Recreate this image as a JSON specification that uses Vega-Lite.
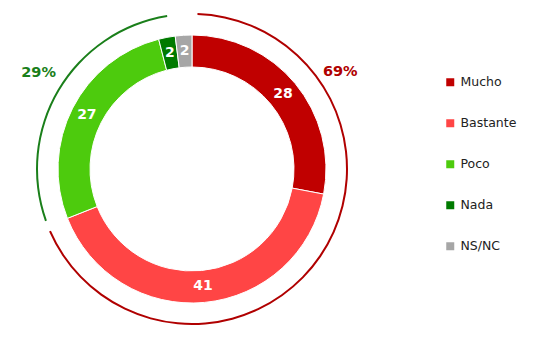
{
  "$schema": "https://vega.github.io/schema/vega-lite/v6.json",
  "width": 535,
  "height": 345,
  "padding": 0,
  "autosize": {"type": "none"},
  "background": "white",
  "config": {"view": {"stroke": null}, "font": "DejaVu Sans"},
  "datasets": {
    "segmentos": [
      {"cat": "Mucho", "valor": 28, "orden": 1},
      {"cat": "Bastante", "valor": 41, "orden": 2},
      {"cat": "Poco", "valor": 27, "orden": 3},
      {"cat": "Nada", "valor": 2, "orden": 4},
      {"cat": "NS/NC", "valor": 2, "orden": 5}
    ],
    "grupos": [
      {"grupo": "Mucho+Bastante", "valor": 69, "orden": 1, "etiqueta": "69%"},
      {"grupo": "Poco+Nada", "valor": 29, "orden": 2, "etiqueta": "29%"},
      {"grupo": "NS/NC", "valor": 2, "orden": 3, "etiqueta": ""}
    ]
  },
  "layer": [
    {
      "data": {"name": "segmentos"},
      "mark": {"type": "arc", "x": 192, "y": 169, "innerRadius": 102, "outerRadius": 134, "stroke": "white", "strokeWidth": 1},
      "encoding": {
        "theta": {"field": "valor", "type": "quantitative", "stack": true, "scale": {"domain": [0, 100]}},
        "order": {"field": "orden", "type": "quantitative"},
        "color": {
          "field": "cat",
          "type": "nominal",
          "scale": {
            "domain": ["Mucho", "Bastante", "Poco", "Nada", "NS/NC"],
            "range": ["#C00000", "#FF4545", "#4DCB0D", "#007A00", "#A6A6A6"]
          },
          "legend": {
            "title": null,
            "orient": "none",
            "legendX": 444,
            "legendY": 76,
            "symbolType": "square",
            "symbolSize": 64,
            "symbolStrokeWidth": 0,
            "labelFontSize": 12.5,
            "labelColor": "#222222",
            "labelFont": "DejaVu Sans",
            "rowPadding": 28,
            "labelOffset": 4
          }
        }
      }
    },
    {
      "data": {"name": "segmentos"},
      "mark": {"type": "text", "x": 192, "y": 169, "radius": 118, "fontWeight": "bold", "fontSize": 14, "fill": "white", "baseline": "middle", "align": "center"},
      "encoding": {
        "theta": {"field": "valor", "type": "quantitative", "stack": true, "scale": {"domain": [0, 100]}},
        "order": {"field": "orden", "type": "quantitative"},
        "text": {"field": "valor", "type": "quantitative"}
      }
    },
    {
      "data": {"name": "grupos"},
      "mark": {"type": "arc", "x": 192, "y": 169, "innerRadius": 154, "outerRadius": 156, "padAngle": 0.05},
      "encoding": {
        "theta": {"field": "valor", "type": "quantitative", "stack": true, "scale": {"domain": [0, 100]}},
        "order": {"field": "orden", "type": "quantitative"},
        "color": {
          "field": "grupo",
          "type": "nominal",
          "scale": {
            "domain": ["Mucho+Bastante", "Poco+Nada", "NS/NC"],
            "range": ["#B00000", "#1A7F1A", "rgba(0,0,0,0)"]
          },
          "legend": null
        }
      }
    },
    {
      "data": {"name": "grupos"},
      "transform": [{"filter": "datum.orden == 1"}],
      "mark": {"type": "text", "x": 192, "y": 169, "radius": 177, "fontWeight": "bold", "fontSize": 14.5, "fill": "#B00000", "baseline": "middle", "align": "center"},
      "encoding": {
        "theta": {"datum": 15.8, "type": "quantitative"},
        "text": {"field": "etiqueta", "type": "nominal"}
      }
    },
    {
      "data": {"name": "grupos"},
      "transform": [{"filter": "datum.orden == 2"}],
      "mark": {"type": "text", "x": 192, "y": 169, "radius": 181, "fontWeight": "bold", "fontSize": 14.5, "fill": "#1A7F1A", "baseline": "middle", "align": "center"},
      "encoding": {
        "theta": {"datum": 83.9, "type": "quantitative"},
        "text": {"field": "etiqueta", "type": "nominal"}
      }
    }
  ],
  "resolve": {"scale": {"color": "independent"}}
}
